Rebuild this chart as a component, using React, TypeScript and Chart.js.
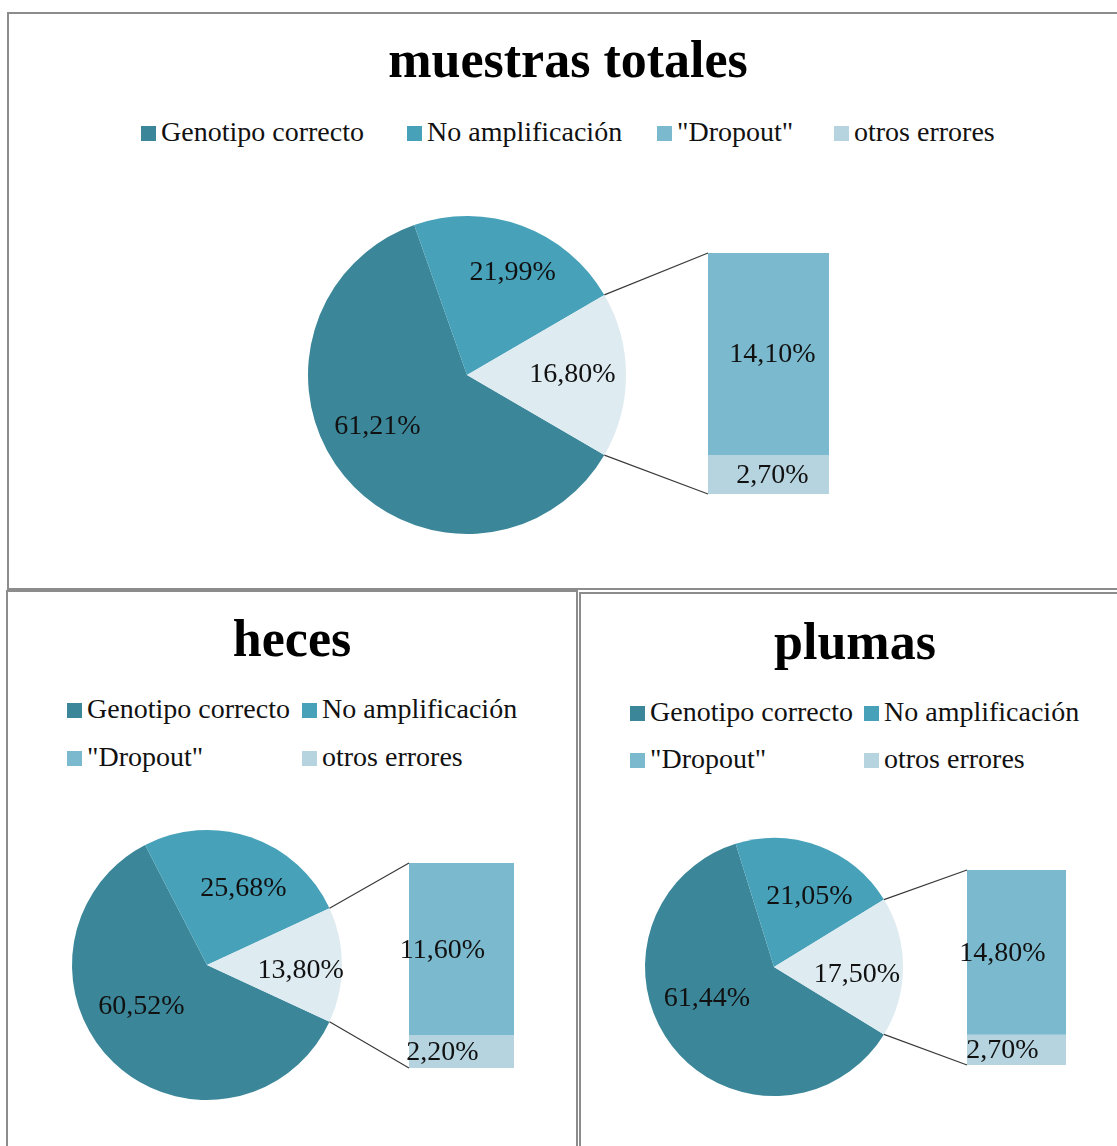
import React, { useEffect, useRef } from 'react';
import { Chart, registerables } from 'chart.js';

Chart.register(...registerables);

// ---- Data ----
const TITLES = ['muestras totales', 'heces', 'plumas'];
const PIE_CATEGORIES = ['Genotipo correcto', 'No amplificación'];
const BAR_CATEGORIES = ['"Dropout"', 'otros errores'];
const LEGEND_LABELS = ['Genotipo correcto', 'No amplificación', '"Dropout"', 'otros errores'];

// pie values: [Genotipo correcto, No amplificación]
const TOTAL_PIE = [61.21, 21.99];
const HECES_PIE = [60.52, 25.68];
const PLUMAS_PIE = [61.44, 21.05];
// bar values: ["Dropout", otros errores]
const TOTAL_BAR = [14.1, 2.7];
const HECES_BAR = [11.6, 2.2];
const PLUMAS_BAR = [14.8, 2.7];

// ---- Styles ----
const C_GENO = '#3B8799';
const C_NOAMP = '#46A1B9';
const C_OTHER = '#DEEBF1';
const C_DROP = '#7BBACE';
const C_OTROS = '#B5D4E0';
const LEGEND_COLORS = [C_GENO, C_NOAMP, C_DROP, C_OTROS];
const FONT = '"Liberation Serif", "Times New Roman", serif';
const TEXT_SIZE = 28;
const TITLE_SIZE = 52;
const BASE_RATIO = 0.8375;

const PANELS = [
  {
    title: TITLES[0], pie: TOTAL_PIE, bar: TOTAL_BAR,
    box: { x: 7, y: 12, w: 1122, h: 578 },
    titleBase: 66,
    legend: { rows: [[0, 1, 2, 3]], xs: [134, 400, 650, 827], bases: [129] },
    pieC: { x: 460, y: 363, r: 159 },
    barR: { l: 701, r: 822, t: 241, b: 482 },
    pieNudge: [[-10, -14], [10, -5], [2, 0]],
    barShift: 4,
  },
  {
    title: TITLES[1], pie: HECES_PIE, bar: HECES_BAR,
    box: { x: 6, y: 590, w: 572, h: 575 },
    titleBase: 67,
    legend: { rows: [[0, 1], [2, 3]], xs: [61, 296], bases: [128, 176] },
    pieC: { x: 201, y: 375, r: 135 },
    barR: { l: 403, r: 508, t: 273, b: 478 },
    pieNudge: [[-5, -22], [8, 7], [6, 6]],
    barShift: -19,
  },
  {
    title: TITLES[2], pie: PLUMAS_PIE, bar: PLUMAS_BAR,
    box: { x: 579, y: 592, w: 552, h: 575 },
    titleBase: 68,
    legend: { rows: [[0, 1], [2, 3]], xs: [51, 285], bases: [129, 176] },
    pieC: { x: 195, y: 375, r: 129 },
    barR: { l: 388, r: 487, t: 278, b: 473 },
    pieNudge: [[-1, -20], [6, 8], [-1, 8]],
    barShift: -14,
  },
];

const fmt = (v: number) => v.toFixed(2).replace('.', ',') + '%';

function Panel({ cfg }: { cfg: any }) {
  const pieRef = useRef<HTMLCanvasElement>(null);
  const barRef = useRef<HTMLCanvasElement>(null);

  useEffect(() => {
    const { w, h } = cfg.box;
    const pc = cfg.pieC;
    const br = cfg.barR;
    const other = cfg.bar[0] + cfg.bar[1];
    const pieData = [cfg.pie[0], cfg.pie[1], other];
    const total = pieData.reduce((a: number, b: number) => a + b, 0);
    const rotation = 90 + (other / total) * 180;

    const pieLabels = {
      id: 'pieLabels',
      afterDatasetsDraw(chart: any) {
        const ctx = chart.ctx;
        const meta = chart.getDatasetMeta(0);
        const vals = chart.data.datasets[0].data;
        ctx.save();
        ctx.font = `${TEXT_SIZE}px ${FONT}`;
        ctx.fillStyle = '#111';
        ctx.textAlign = 'center';
        ctx.textBaseline = 'middle';
        meta.data.forEach((arc: any, i: number) => {
          const p = arc.getProps(['x', 'y', 'startAngle', 'endAngle', 'outerRadius'], true);
          const mid = (p.startAngle + p.endAngle) / 2;
          const rr = p.outerRadius * 0.65;
          const lx = p.x + Math.cos(mid) * rr + cfg.pieNudge[i][0];
          const ly = p.y + Math.sin(mid) * rr + cfg.pieNudge[i][1];
          ctx.fillText(fmt(vals[i]), lx, ly);
        });
        ctx.restore();
      },
    };

    const pie = new Chart(pieRef.current as HTMLCanvasElement, {
      type: 'pie',
      data: {
        labels: [...PIE_CATEGORIES, 'otros'],
        datasets: [{ data: pieData, backgroundColor: [C_GENO, C_NOAMP, C_OTHER], borderWidth: 0, hoverOffset: 0 }],
      },
      options: {
        responsive: false,
        animation: false,
        devicePixelRatio: 1,
        events: [],
        rotation,
        radius: pc.r,
        layout: { padding: { left: pc.x - pc.r, right: w - pc.x - pc.r, top: pc.y - pc.r, bottom: h - pc.y - pc.r } },
        plugins: { legend: { display: false }, tooltip: { enabled: false }, title: { display: false } },
      } as any,
      plugins: [pieLabels],
    });

    const barPlugin = {
      id: 'barExtras',
      afterDatasetsDraw(chart: any) {
        const ctx = chart.ctx;
        const bottomEl = chart.getDatasetMeta(0).data[0].getProps(['x', 'y', 'base', 'width'], true);
        const topEl = chart.getDatasetMeta(1).data[0].getProps(['x', 'y', 'base', 'width'], true);
        const arc = pie.getDatasetMeta(0).data[2].getProps(['x', 'y', 'startAngle', 'endAngle', 'outerRadius'], true);
        const leftX = topEl.x - topEl.width / 2;
        ctx.save();
        ctx.strokeStyle = '#3a3a3a';
        ctx.lineWidth = 1.2;
        ctx.beginPath();
        ctx.moveTo(arc.x + Math.cos(arc.startAngle) * arc.outerRadius, arc.y + Math.sin(arc.startAngle) * arc.outerRadius);
        ctx.lineTo(leftX, topEl.y);
        ctx.moveTo(arc.x + Math.cos(arc.endAngle) * arc.outerRadius, arc.y + Math.sin(arc.endAngle) * arc.outerRadius);
        ctx.lineTo(leftX, bottomEl.base);
        ctx.stroke();
        ctx.font = `${TEXT_SIZE}px ${FONT}`;
        ctx.fillStyle = '#111';
        ctx.textAlign = 'center';
        ctx.textBaseline = 'middle';
        ctx.fillText(fmt(chart.data.datasets[1].data[0]), topEl.x + cfg.barShift, (topEl.y + topEl.base) / 2 + 1);
        ctx.fillText(fmt(chart.data.datasets[0].data[0]), bottomEl.x + cfg.barShift, (bottomEl.y + bottomEl.base) / 2 + 1);
        ctx.restore();
      },
    };

    const bar = new Chart(barRef.current as HTMLCanvasElement, {
      type: 'bar',
      data: {
        labels: [''],
        datasets: [
          { label: BAR_CATEGORIES[1], data: [cfg.bar[1]], backgroundColor: C_OTROS, borderWidth: 0 },
          { label: BAR_CATEGORIES[0], data: [cfg.bar[0]], backgroundColor: C_DROP, borderWidth: 0 },
        ],
      },
      options: {
        responsive: false,
        animation: false,
        devicePixelRatio: 1,
        events: [],
        layout: { padding: { left: br.l, right: w - br.r, top: br.t, bottom: h - br.b } },
        datasets: { bar: { barPercentage: 1, categoryPercentage: 1 } },
        scales: {
          x: { display: false, stacked: true },
          y: { display: false, stacked: true, min: 0, max: other },
        },
        plugins: { legend: { display: false }, tooltip: { enabled: false }, title: { display: false } },
      } as any,
      plugins: [barPlugin],
    });

    return () => {
      bar.destroy();
      pie.destroy();
    };
  }, [cfg]);

  const { x, y, w, h } = cfg.box;
  const legendItems: any[] = [];
  cfg.legend.rows.forEach((row: number[], r: number) => {
    row.forEach((idx: number, c: number) => {
      const lx = cfg.legend.xs[c];
      const base = cfg.legend.bases[r];
      legendItems.push(
        <React.Fragment key={idx}>
          <div style={{ position: 'absolute', left: lx, top: base - 15, width: 15, height: 15, background: LEGEND_COLORS[idx] }} />
          <div style={{ position: 'absolute', left: lx + 20, top: base - TEXT_SIZE * BASE_RATIO, fontFamily: FONT, fontSize: TEXT_SIZE, lineHeight: 1, whiteSpace: 'nowrap', color: '#111' }}>
            {LEGEND_LABELS[idx]}
          </div>
        </React.Fragment>
      );
    });
  });

  return (
    <div style={{ position: 'absolute', left: x, top: y, width: w, height: h, background: '#fff' }}>
      <div style={{ position: 'absolute', left: 0, top: cfg.titleBase - TITLE_SIZE * BASE_RATIO, width: w, textAlign: 'center', fontFamily: FONT, fontWeight: 'bold', fontSize: TITLE_SIZE, lineHeight: 1, whiteSpace: 'nowrap', color: '#000' }}>
        {cfg.title}
      </div>
      {legendItems}
      <canvas ref={pieRef} width={w} height={h} style={{ position: 'absolute', left: 0, top: 0 }} />
      <canvas ref={barRef} width={w} height={h} style={{ position: 'absolute', left: 0, top: 0 }} />
      <div style={{ position: 'absolute', left: 0, top: 0, width: w, height: h, boxSizing: 'border-box', border: '2px solid #8c8c8c', pointerEvents: 'none' }} />
    </div>
  );
}

export default function App() {
  return (
    <div style={{ position: 'fixed', left: 0, top: 0, width: 1117, height: 1146, overflow: 'hidden', background: '#fff' }}>
      {PANELS.map((p, i) => (
        <Panel key={i} cfg={p} />
      ))}
    </div>
  );
}
